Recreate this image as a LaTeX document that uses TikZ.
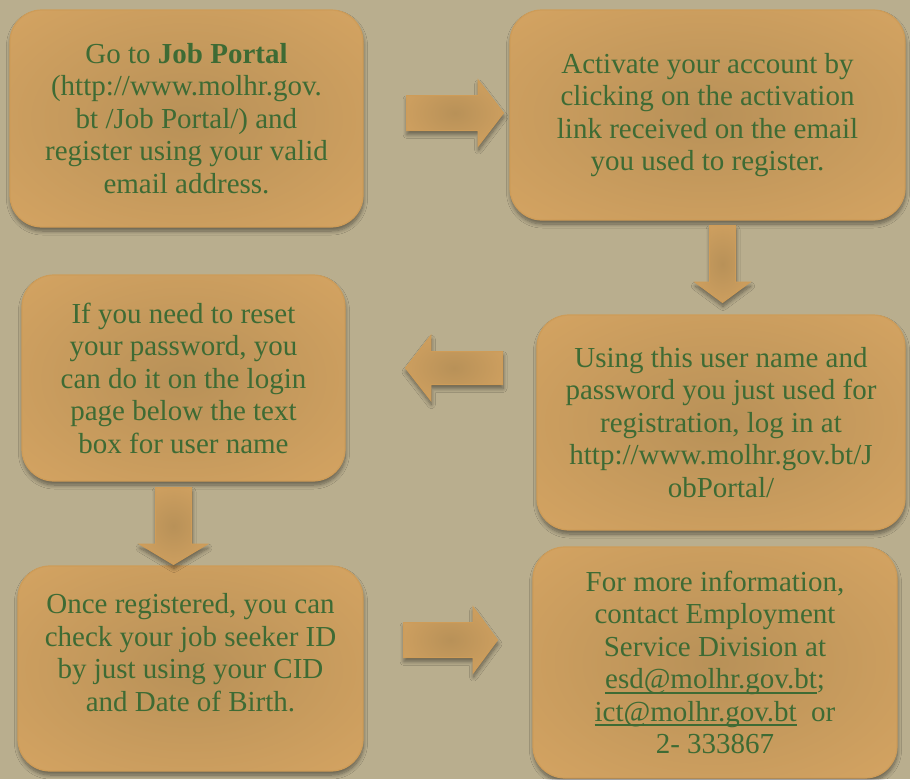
\documentclass[tikz,border=0pt]{standalone}
\usepackage{fontspec}
\setmainfont{Liberation Serif}
\usetikzlibrary{shapes.arrows,shadows.blur}
\definecolor{bgcol}{RGB}{185,174,142}
\definecolor{boxin}{RGB}{184,145,88}
\definecolor{boxout}{RGB}{222,170,101}
\definecolor{boxedge}{RGB}{206,156,88}
\definecolor{txtgreen}{RGB}{62,107,52}
\pgfdeclareradialshading{boxshade}{\pgfpoint{0bp}{0bp}}{color(0bp)=(boxin); color(48bp)=(boxout); color(75bp)=(boxout)}
\newcommand\ulink[1]{\setbox0\hbox{#1}\rlap{\rule[-5pt]{\wd0}{2pt}}\box0}
\begin{document}
\begin{tikzpicture}[x=1pt,y=-1pt,
  softshadow/.style={blur shadow={shadow xshift=0.5pt, shadow yshift=-4pt, shadow blur radius=4pt, shadow blur steps=8, shadow opacity=45}},
  stepbox/.style={draw=boxedge, line width=1.2pt, rounded corners=32pt, shading=boxshade,
    inner sep=0pt, align=center, text=txtgreen, font=\fontsize{29pt}{32.5pt}\selectfont, softshadow},
  blockarrow/.style={single arrow, draw=boxedge, line width=1pt, shading=boxshade,
    inner sep=0pt, minimum width=0pt, softshadow}]
\useasboundingbox (0,0) rectangle (910,779);
\fill[bgcol] (0,0) rectangle (910,779);

\node[stepbox, minimum width=353pt, minimum height=217pt] (b1) at (186.5,118.5)
  {Go to \textbf{Job Portal}\\(http://www.molhr.gov.\\bt /Job Portal/) and\\register using your valid\\email address.};
\node[stepbox, minimum width=395pt, minimum height=210pt] (b2) at (707.5,115)
  {Activate your account by\\clicking on the activation\\link received on the email\\you used to register.};
\node[stepbox, minimum width=323pt, minimum height=206pt] (b3) at (183.5,378)
  {If you need to reset\\your password, you\\can do it on the login\\page below the text\\box for user name};
\node[stepbox, minimum width=368pt, minimum height=215pt] (b4) at (721,422.5)
  {Using this user name and\\password you just used for\\registration, log in at\\http://www.molhr.gov.bt/J\\obPortal/};
\node[stepbox, minimum width=345pt, minimum height=205pt] (b5) at (190.5,668.5)
  {Once registered, you can\\check your job seeker ID\\by just using your CID\\and Date of Birth.\\\mbox{}};
\node[stepbox, minimum width=364pt, minimum height=231pt] (b6) at (715,662.5)
  {For more information,\\contact Employment\\Service Division at\\\ulink{esd@molhr.gov.bt};\\\ulink{ict@molhr.gov.bt}~~or\\2- 333867};

\node[blockarrow, inner ysep=17pt, minimum height=97pt, single arrow head extend=15.5pt,
  single arrow tip angle=105, anchor=tail] (a1) at (406,113) {};
\node[blockarrow, inner xsep=12.5pt, minimum height=77pt, single arrow head extend=14.5pt,
  single arrow tip angle=107, shape border rotate=270, anchor=tail] (a2) at (722.5,225) {};
\node[blockarrow, inner ysep=16pt, minimum height=97pt, single arrow head extend=16pt,
  single arrow tip angle=104, shape border rotate=180, anchor=tail] (a3) at (503,368) {};
\node[blockarrow, inner xsep=17.5pt, minimum height=77pt, single arrow head extend=16pt,
  single arrow tip angle=118, shape border rotate=270, anchor=tail] (a4) at (173.5,487) {};
\node[blockarrow, inner ysep=17pt, minimum height=94pt, single arrow head extend=15.5pt,
  single arrow tip angle=107, anchor=tail] (a5) at (403,640) {};
\end{tikzpicture}
\end{document}
